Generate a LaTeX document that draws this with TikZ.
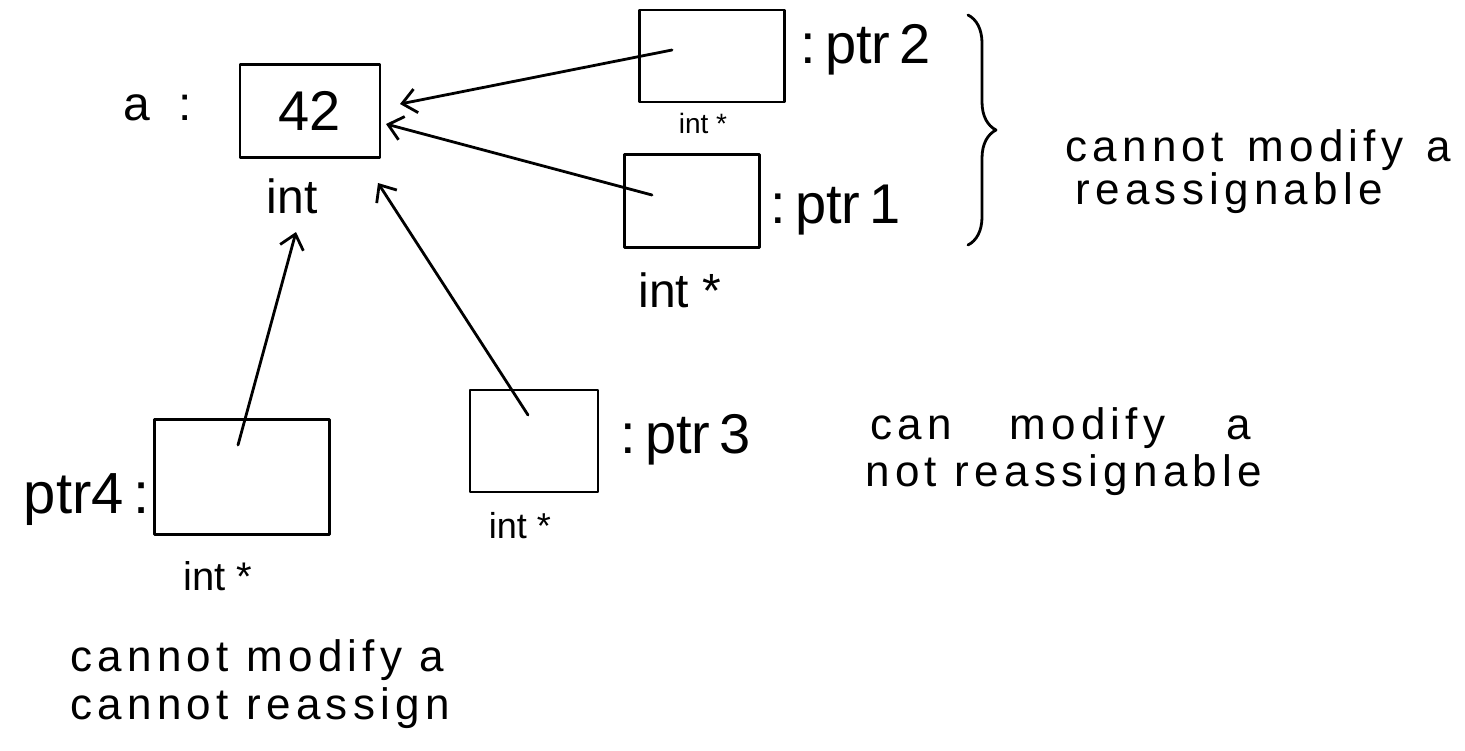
\documentclass[tikz,border=0pt]{standalone}
\usepackage{fontspec}
\setmainfont{Liberation Sans}
\usetikzlibrary{arrows.meta,decorations.pathreplacing}
\begin{document}
\begin{tikzpicture}[x=0.5pt,y=-0.5pt,
  ink/.style={line width=1.4pt,line cap=round,line join=round},
  box/.style={ink,draw,inner sep=0pt},
  lbl/.style={inner sep=0pt,font=\fontsize{24}{28}\selectfont},
  small/.style={inner sep=0pt,font=\fontsize{14}{16}\selectfont},
  note/.style={inner sep=0pt,anchor=west,font=\fontsize{22}{26}\selectfont\addfontfeature{LetterSpace=12}},
  ptr/.style={ink,-{Straight Barb[length=7pt,width=12pt,line width=1.4pt]}}]
\useasboundingbox (0,0) rectangle (1465,750);

% the int variable a
\node[box,minimum width=70pt,minimum height=46.5pt,font=\fontsize{28}{32}\selectfont] (a) at (310,111) {42};
\node[lbl,anchor=east] (aname) at (192,108) {a\hspace{14pt}:};
\node[lbl] (atype) at (292,196) {int};

% pointer boxes
\node[box,minimum width=72.5pt,minimum height=46pt] (p2) at (712,56) {};
\node[box,minimum width=67.5pt,minimum height=46.5pt] (p1) at (692,201) {};
\node[box,minimum width=64pt,minimum height=51pt] (p3) at (534,441) {};
\node[box,minimum width=87.5pt,minimum height=57.5pt] (p4) at (242,477) {};

% names and types
\node[lbl,anchor=west,font=\fontsize{28}{32}\selectfont] (p2name) at (800,50) {:\,ptr\,2};
\node[small] (p2type) at (703,123) {int *};
\node[lbl,anchor=west,font=\fontsize{28}{32}\selectfont] (p1name) at (770,210) {:\,ptr\,1};
\node[lbl] (p1type) at (680,290) {int *};
\node[lbl,anchor=west,font=\fontsize{28}{32}\selectfont] (p3name) at (620,440) {:\,ptr\,3};
\node[small,font=\fontsize{18}{20}\selectfont] (p3type) at (520,526) {int *};
\node[lbl,anchor=east,font=\fontsize{29}{32}\selectfont] (p4name) at (150,500) {ptr4\,:};
\node[lbl,font=\fontsize{20}{24}\selectfont] (p4type) at (218,576) {int *};

% pointer values: arrows into a
\coordinate (s2) at (672,50);
\coordinate (s1) at (652,195);
\coordinate (s3) at (528,415);
\coordinate (s4) at (238,445);
\coordinate (t2) at (400,104);
\coordinate (t1) at (386,124);
\coordinate (t3) at (378,183);
\coordinate (t4) at (296,232);
\draw[ptr] (s2) -- (t2);
\draw[ptr] (s1) -- (t1);
\draw[ptr] (s3) -- (t3);
\draw[ptr] (s4) -- (t4);

% brace grouping ptr1 and ptr2
\coordinate (bt) at (968,15);
\coordinate (bb) at (968,245);
\draw[ink,decorate,decoration={brace,amplitude=14pt}] (bt) -- (bb);

% notes
\node[note] (n1a) at (1065,150) {cannot\hspace{3pt} modify\hspace{3pt} a};
\node[note] (n1b) at (1075,193) {reassignable};
\node[note] (n3a) at (870,428) {can\hspace{20pt} modify\hspace{22pt} a};
\node[note] (n3b) at (865,475) {not reassignable};
\node[note] (n4a) at (70,660) {cannot modify a};
\node[note] (n4b) at (70,708) {cannot reassign};
\end{tikzpicture}
\end{document}
